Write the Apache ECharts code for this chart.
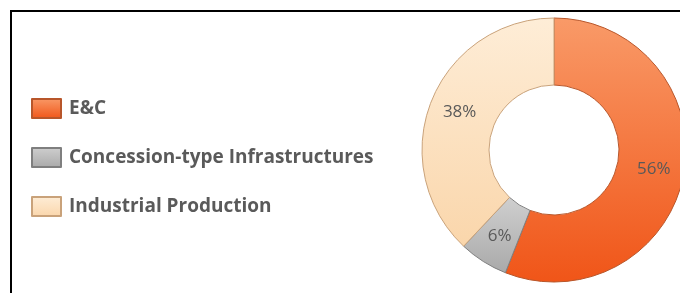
<!DOCTYPE html>
<html>
<head>
<meta charset="utf-8">
<script src="https://cdn.jsdelivr.net/npm/echarts@6/dist/echarts.min.js"></script>
<style>
  html, body { margin: 0; padding: 0; background: #fff; }
  .frame {
    position: absolute; left: 10px; top: 10px; width: 670px; height: 283px;
    border-top: 2px solid #000; border-left: 2px solid #000; box-sizing: border-box;
  }
  #chart { position: absolute; left: 0; top: 0; width: 680px; height: 293px; }
</style>
</head>
<body>
<div class="frame"></div>
<div id="chart"></div>
<script>
  // segments, clockwise from 12 o'clock
  const categories = ['E&C', 'Concession-type Infrastructures', 'Industrial Production'];
  const shares = [56, 6, 38];
  const topColors = ['#F99A68', '#CFCFCF', '#FEEDD7'];
  const bottomColors = ['#F05518', '#A9A9A9', '#FAD6AB'];
  const edgeColors = ['#B8562A', '#7F7F7F', '#C9A27A'];

  const chart = echarts.init(document.getElementById('chart'));

  const pieData = categories.map((name, i) => ({
    name: name,
    value: shares[i],
    itemStyle: {
      color: {
        type: 'linear', x: 0, y: 0, x2: 0, y2: 1,
        colorStops: [
          { offset: 0, color: topColors[i] },
          { offset: 1, color: bottomColors[i] }
        ]
      },
      borderColor: edgeColors[i],
      borderWidth: 1
    }
  }));

  chart.setOption({
    animation: false,
    legend: {
      orient: 'vertical',
      left: 26,
      top: 93,
      itemWidth: 29,
      itemHeight: 19,
      itemGap: 28,
      icon: 'rect',
      selectedMode: false,
      textStyle: {
        fontFamily: 'Open Sans',
        fontWeight: 'bold',
        fontSize: 19,
        lineHeight: 19,
        color: '#5A5A5A',
        padding: [0, 0, 0, 3]
      },
      data: categories
    },
    series: [{
      type: 'pie',
      center: [554, 150],
      radius: [65, 132],
      startAngle: 90,
      clockwise: true,
      label: {
        show: true,
        position: 'inside',
        formatter: '{d}%',
        fontFamily: 'Open Sans',
        fontSize: 17,
        color: '#595959'
      },
      labelLine: { show: false },
      emphasis: { disabled: true },
      data: pieData
    }]
  });
</script>
</body>
</html>
